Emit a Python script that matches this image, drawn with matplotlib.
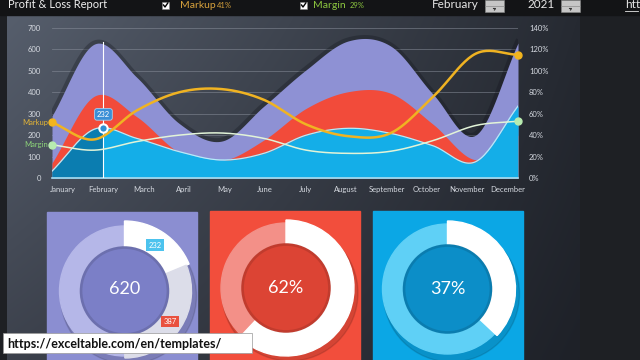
import numpy as np
import matplotlib
matplotlib.use('Agg')
import matplotlib.pyplot as plt
from matplotlib.patches import Wedge, Circle, Rectangle

plt.rcParams['font.family'] = ['Lato', 'DejaVu Sans']

months = ['January', 'February', 'March', 'April', 'May', 'June', 'July',
          'August', 'September', 'October', 'November', 'December']
revenue = [290, 625, 470, 255, 172, 335, 505, 640, 615, 390, 200, 630]
cost = [70, 382, 286, 120, 80, 177, 325, 403, 395, 250, 85, 200]
profit = [32, 228, 185, 123, 84, 115, 200, 232, 208, 150, 76, 336]
markup = [0.52, 0.36, 0.63, 0.80, 0.83, 0.73, 0.50, 0.39, 0.42, 0.76, 1.16, 1.15]
margin = [0.31, 0.26, 0.34, 0.40, 0.42, 0.37, 0.26, 0.23, 0.25, 0.35, 0.49, 0.53]

sel_month = 'February'
sel_year = '2021'
total_markup = 41
total_margin = 29
month_revenue = 620
month_profit = 232
month_cost = 387
ring_max = 1240
cost_share = 62
margin_share = 37


def smooth(x, y, n=24):
    # catmull-rom curve through the points (like excel smoothed lines)
    x = np.asarray(x, float)
    y = np.asarray(y, float)
    px = np.concatenate([[2 * x[0] - x[1]], x, [2 * x[-1] - x[-2]]])
    py = np.concatenate([[2 * y[0] - y[1]], y, [2 * y[-1] - y[-2]]])
    t = np.linspace(0, 1, n, endpoint=False)
    ox, oy = [], []
    for i in range(1, len(px) - 2):
        for p, out in ((px, ox), (py, oy)):
            p0, p1, p2, p3 = p[i - 1], p[i], p[i + 1], p[i + 2]
            out.append(0.5 * (2 * p1 + (-p0 + p2) * t + (2 * p0 - 5 * p1 + 4 * p2 - p3) * t ** 2
                              + (-p0 + 3 * p1 - 3 * p2 + p3) * t ** 3))
    ox.append([x[-1]])
    oy.append([y[-1]])
    return np.concatenate(ox), np.concatenate(oy)


fig = plt.figure(figsize=(6.4, 3.6), dpi=100, facecolor='#1e2024')

# background layer in pixel coordinates
bg = fig.add_axes([0, 0, 1, 1])
bg.axis('off')
gy, gx = np.mgrid[0:1:60j, 0:1:120j]
tl = np.array([86, 94, 108]) / 255
tr = np.array([38, 42, 50]) / 255
bl = np.array([60, 65, 76]) / 255
br = np.array([30, 33, 40]) / 255
img = (tl * ((1 - gx) * (1 - gy))[..., None] + tr * (gx * (1 - gy))[..., None]
       + bl * ((1 - gx) * gy)[..., None] + br * (gx * gy)[..., None])
bg.imshow(img, extent=(7, 580, 360, 15), aspect='auto', interpolation='bilinear', zorder=0)
bg.add_patch(Rectangle((0, 0), 640, 15, color='#131416', zorder=1))
bg.set_xlim(0, 640)
bg.set_ylim(360, 0)

# header
bg.text(8, 5, 'Profit & Loss Report', color='#f0f0f0', fontsize=8, va='center', zorder=3)
for bx in (162, 300):
    bg.add_patch(Rectangle((bx, 1.5), 7, 7, fc='white', ec='#888', lw=0.4, zorder=3))
    bg.plot([bx + 1.5, bx + 3, bx + 5.8], [5, 7, 3], color='black', lw=1, zorder=4)
bg.text(180, 5, 'Markup', color='#d8a23c', fontsize=7.5, va='center', zorder=3)
bg.text(217, 5.5, f'{total_markup}%', color='#d8a23c', fontsize=5.5, va='center', zorder=3)
bg.text(313, 5, 'Margin', color='#8cc63f', fontsize=7.5, va='center', zorder=3)
bg.text(350, 5.5, f'{total_margin}%', color='#8cc63f', fontsize=5.5, va='center', zorder=3)
bg.text(432, 5, sel_month, color='#e6e6e6', fontsize=8.5, va='center', zorder=3)
bg.text(528, 5, sel_year, color='#e6e6e6', fontsize=8.5, va='center', zorder=3)
for sx in (485, 561):
    bg.add_patch(Rectangle((sx, 0), 19, 12, fc='#c6c6c6', ec='#888', lw=0.4, zorder=3))
    bg.plot([sx, sx + 19], [6, 6], color='#8a8a8a', lw=0.5, zorder=4)
    bg.plot([sx + 8.5, sx + 10.5, sx + 9.5], [8.5, 8.5, 10], color='#333', lw=0.8, zorder=4)
bg.text(625, 5, 'htt', color='#e6e6e6', fontsize=8.5, va='center', zorder=3)
bg.plot([625, 638], [11, 11], color='#e6e6e6', lw=0.6, zorder=3)

# main chart
ax = fig.add_axes([52 / 640, 1 - 178 / 360, 466 / 640, 150 / 360])
ax.set_facecolor('none')
x = np.arange(len(months))
label_pos = np.linspace(0.26, 10.76, len(months))
xf = label_pos[months.index(sel_month)]

xs, rev_s = smooth(x, revenue)
_, cost_s = smooth(x, cost)
_, prof_s = smooth(x, profit)
_, mk_s = smooth(x, markup)
_, mg_s = smooth(x, margin)

ax.plot(xs, rev_s, color='#10131a', lw=5, alpha=0.3, zorder=1.5)
ax.fill_between(xs, 0, rev_s, color='#8e91d4', lw=0, zorder=2)
ax.fill_between(xs, 0, cost_s, color='#f24b3a', lw=0, zorder=3)
ax.fill_between(xs, 0, prof_s, color='#14aee8', lw=0, zorder=4)
ytd = xs <= xf
ax.fill_between(xs[ytd], 0, prof_s[ytd], color='#0b7db0', lw=0, zorder=4.5)
ax.plot(xs, prof_s, color='#b4ecfa', lw=0.9, zorder=5)
ax.axhline(0, color='#a9dcf0', lw=1.2, zorder=6, clip_on=False)
ax.plot([xf, xf], [0, np.interp(xf, xs, rev_s) + 10], color='white', lw=0.8, zorder=7)

ax.set_xlim(0, 11)
ax.set_ylim(0, 700)
ax.set_yticks(range(0, 701, 100))
ax.yaxis.grid(True, color='#8a909c', lw=0.6, alpha=0.6)
ax.set_axisbelow(True)
ax.set_xticks(label_pos)
ax.set_xticklabels(months)
ax.tick_params(axis='both', length=0, labelsize=5.5, labelcolor='#d5d9e0')
ax.tick_params(axis='y', pad=8)
ax.tick_params(axis='x', pad=6)
for s in ax.spines.values():
    s.set_visible(False)

ax2 = ax.twinx()
ax2.plot(xs, mk_s, color='#f0b322', lw=1.8, zorder=3, solid_capstyle='round')
ax2.plot(xs, mg_s, color='#e2f4d8', lw=1.1, zorder=3)
ax2.plot([x[0], x[-1]], [markup[0], markup[-1]], 'o', ms=5, color='#f2b51e', zorder=4, clip_on=False)
ax2.plot([x[0], x[-1]], [margin[0], margin[-1]], 'o', ms=5, color='#b8ecb0', zorder=4, clip_on=False)
ax2.annotate('Markup', (x[0], markup[0]), xytext=(-3, 0), textcoords='offset points',
             ha='right', va='center', color='#e3b437', fontsize=5.5)
ax2.annotate('Margin', (x[0], margin[0]), xytext=(-3, 0), textcoords='offset points',
             ha='right', va='center', color='#8ed67a', fontsize=5.5)
ax2.plot([xf], [month_profit], 'o', transform=ax.transData, ms=6, mfc='#2f8fd2',
         mec='white', mew=1.5, zorder=8, clip_on=False)
ax2.annotate(str(month_profit), xy=(xf, month_profit), xycoords=ax.transData, xytext=(0, 10),
             textcoords='offset points', ha='center', va='center', fontsize=5.5, color='white',
             bbox=dict(boxstyle='round,pad=0.3', fc='#3b8fd6', ec='#a8d0f0', lw=0.6), zorder=9)
ax2.set_ylim(0, 1.4)
ax2.set_yticks(np.arange(0, 1.41, 0.2))
ax2.set_yticklabels([f'{round(v * 100)}%' for v in np.arange(0, 1.41, 0.2)])
ax2.tick_params(axis='y', length=0, labelsize=5.5, labelcolor='#d5d9e0', pad=8)
for s in ax2.spines.values():
    s.set_visible(False)
ax.set_xlim(0, 11)
ax.set_ylim(0, 700)

# donut cards
cards = [
    dict(rect=(47, 212), color='#8b8ed1', center=(124.5, 291), track='#b5b7e8', inner='#7b7fc7'),
    dict(rect=(210, 211), color='#f24e3c', center=(286, 288), track='#f39088', inner='#dc4434'),
    dict(rect=(373, 211), color='#0ba7e5', center=(447.5, 289), track='#5fd0f6', inner='#0c8ec8'),
]
for c in cards:
    bg.add_patch(Rectangle(c['rect'], 150, 150, color=c['color'], zorder=2))
    cx, cy = c['center']
    bg.add_patch(Circle((cx + 4, cy + 5), 68, color='black', alpha=0.12, zorder=3))
    bg.add_patch(Wedge((cx, cy), 65, 0, 360, width=21, color=c['track'], zorder=4))
    bg.add_patch(Circle((cx, cy), 44, color=c['inner'], zorder=6))
    bg.add_patch(Circle((cx, cy), 43.5, fill=False, ec='black', alpha=0.12, lw=2, zorder=6))

# card 1: revenue split into profit and cost
cx, cy = cards[0]['center']
a1 = month_profit / ring_max * 360
a2 = month_cost / ring_max * 360
bg.add_patch(Wedge((cx, cy), 70, -90, -90 + a1, width=26, color='white', zorder=5))
bg.add_patch(Wedge((cx, cy), 67, -90 + a1, -90 + a1 + a2, width=23, color='#dcdde9', zorder=5))
bg.text(cx, cy - 2, str(month_revenue), color='white', fontsize=13, ha='center', va='center', zorder=7)
for val, start, span, fc in ((month_profit, 0, a1, '#4cc3ee'), (month_cost, a1, a2, '#e9513f')):
    ang = np.deg2rad(-90 + start + span / 2)
    bg.text(cx + 55 * np.cos(ang), cy + 55 * np.sin(ang), str(val), color='white', fontsize=5.5,
            ha='center', va='center', zorder=8,
            bbox=dict(boxstyle='square,pad=0.3', fc=fc, ec='none'))

# cards 2 and 3: share rings
for c, share in ((cards[1], cost_share), (cards[2], margin_share)):
    cx, cy = c['center']
    bg.add_patch(Wedge((cx, cy), 68, -90, -90 + share / 100 * 360, width=25, color='white', zorder=5))
    bg.text(cx, cy, f'{share}%', color='white', fontsize=13, ha='center', va='center', zorder=7)

# watermark
bg.add_patch(Rectangle((3, 333), 249, 20, fc='white', ec='#999', lw=0.5, zorder=20))
bg.text(7, 343.5, 'https://exceltable.com/en/templates/', color='#111', fontsize=9,
        fontweight='bold', va='center', zorder=21)

fig.savefig('out.png', dpi=100, facecolor=fig.get_facecolor())
